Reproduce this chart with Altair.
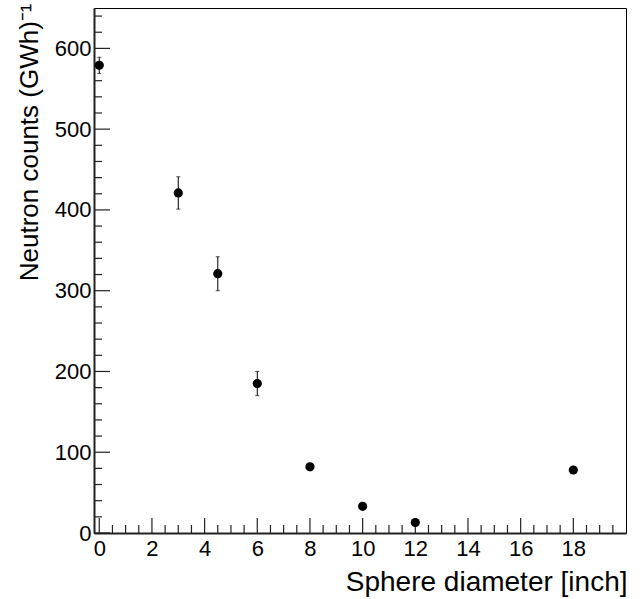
import altair as alt
import pandas as pd

# data
diameter = [0, 3, 4.5, 6, 8, 10, 12, 18]
counts = [579, 421, 321, 185, 82, 33, 13, 78]
errors = [10, 20, 21, 15, 4, 3, 2, 4]

x_major = [0, 2, 4, 6, 8, 10, 12, 14, 16, 18]
x_minor = [v / 2 for v in range(0, 40) if v % 4 != 0]
y_major = [0, 100, 200, 300, 400, 500, 600]
y_minor = [v for v in range(0, 650, 20) if v % 100 != 0]

df = pd.DataFrame({"d": diameter, "c": counts, "e": errors})
df["lo"] = df["c"] - df["e"]
df["hi"] = df["c"] + df["e"]

W, H = 532, 525
FONT = "Liberation Sans"
xs = alt.Scale(domain=[-0.2, 20], nice=False, zero=False)
ys = alt.Scale(domain=[0, 650], nice=False, zero=False)

base = alt.Chart(df)

x_axis = alt.Axis(
    values=x_major, ticks=False, grid=False, labelFont=FONT, labelFontSize=22,
    labelColor="black", labelPadding=5, domainColor="#222222", domainWidth=2,
    title="Sphere diameter [inch]", titleFont=FONT, titleFontSize=28,
    titleFontWeight="normal", titleColor="black", titleAnchor="end",
    titleAlign="right", titleBaseline="alphabetic", titleX=W + 1, titleY=57,
)
y_axis = alt.Axis(
    values=y_major, ticks=False, grid=False, labelFont=FONT, labelFontSize=22,
    labelColor="black", labelPadding=3, domainColor="#222222", domainWidth=2,
    title="Neutron counts (GWh)⁻¹", titleFont=FONT, titleFontSize=26,
    titleFontWeight="normal", titleColor="black", titleAnchor="end",
    titleAngle=270, titleAlign="right", titleBaseline="alphabetic",
    titleX=-57, titleY=-5,
)

points = base.mark_circle(size=85, color="black", opacity=1).encode(
    x=alt.X("d:Q", scale=xs, axis=x_axis),
    y=alt.Y("c:Q", scale=ys, axis=y_axis),
)
err = base.mark_rule(color="black", strokeWidth=1).encode(
    x=alt.X("d:Q", scale=xs), y=alt.Y("lo:Q", scale=ys), y2="hi:Q"
)
cap_lo = base.mark_tick(color="black", orient="horizontal", size=4, thickness=1).encode(
    x=alt.X("d:Q", scale=xs), y=alt.Y("lo:Q", scale=ys)
)
cap_hi = base.mark_tick(color="black", orient="horizontal", size=4, thickness=1).encode(
    x=alt.X("d:Q", scale=xs), y=alt.Y("hi:Q", scale=ys)
)

xmaj = alt.Chart(pd.DataFrame({"t": x_major})).mark_rule(color="#222222", strokeWidth=1.2).encode(
    x=alt.X("t:Q", scale=xs), y=alt.value(H), y2=alt.value(H - 15)
)
xmin = alt.Chart(pd.DataFrame({"t": x_minor})).mark_rule(color="#222222", strokeWidth=1.2).encode(
    x=alt.X("t:Q", scale=xs), y=alt.value(H), y2=alt.value(H - 8)
)
ymaj = alt.Chart(pd.DataFrame({"t": y_major})).mark_rule(color="#222222", strokeWidth=1.2).encode(
    y=alt.Y("t:Q", scale=ys), x=alt.value(0), x2=alt.value(16)
)
ymin = alt.Chart(pd.DataFrame({"t": y_minor})).mark_rule(color="#222222", strokeWidth=1.2).encode(
    y=alt.Y("t:Q", scale=ys), x=alt.value(0), x2=alt.value(8)
)

chart = alt.layer(xmin, xmaj, ymin, ymaj, err, cap_lo, cap_hi, points).properties(
    width=W, height=H,
    autosize=alt.AutoSizeParams(type="none"),
    padding={"left": 94, "top": 8, "right": 18, "bottom": 66},
    background="white",
).configure_view(stroke="black", strokeWidth=1)

chart.save("out.html", embed_options={"renderer": "svg", "actions": False})
